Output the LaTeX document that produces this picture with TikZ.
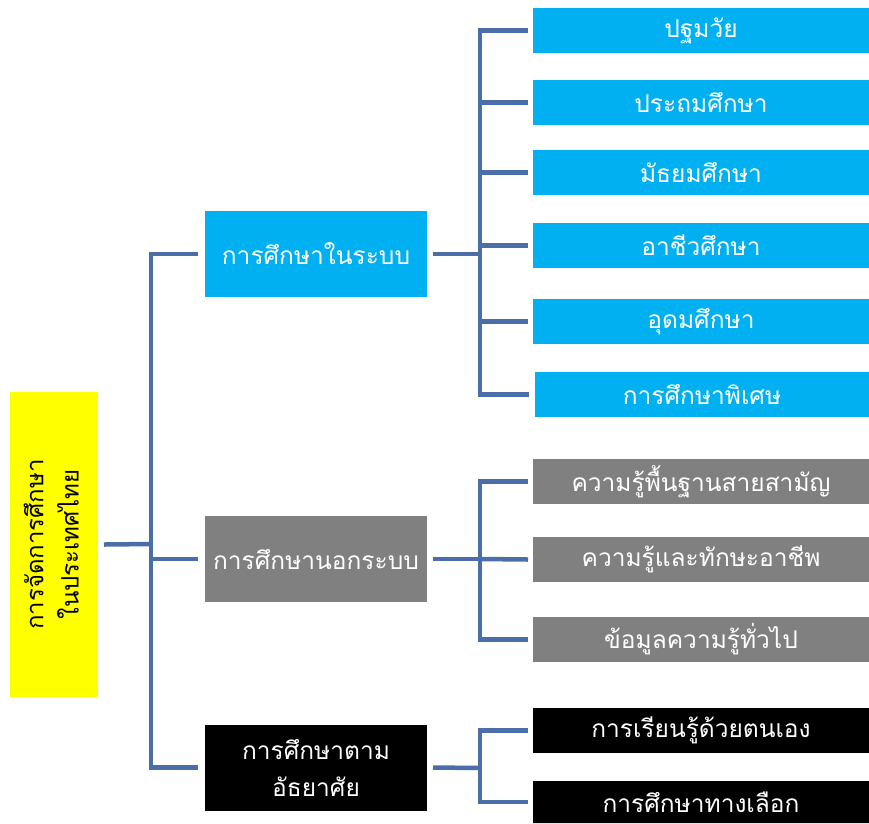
\documentclass[tikz,border=0pt]{standalone}
\usepackage{fontspec}
\newfontfamily\thaifont[Script=Thai]{Loma}
\definecolor{lineblue}{RGB}{74,111,166}
\definecolor{cyanbox}{RGB}{0,176,240}
\definecolor{graybox}{RGB}{128,128,128}
\definecolor{yellowbox}{RGB}{255,255,0}
\begin{document}
\begin{tikzpicture}[x=1pt,y=-1pt,
  conn/.style={draw=lineblue,line width=4.5pt},
  box/.style={inner sep=0pt,outer sep=0pt,font=\thaifont\fontsize{24.5}{37}\selectfont,align=center},
  midbox/.style={box,minimum width=222pt,minimum height=86pt},
  leafbox/.style={box,minimum width=336pt,minimum height=45pt},
  cyanstyle/.style={fill=cyanbox,text=white},
  graystyle/.style={fill=graybox,text=white},
  blackstyle/.style={fill=black,text=white}]
\useasboundingbox (0,0) rectangle (869,823);

% root
\node[box,fill=yellowbox,text=black,minimum width=88pt,minimum height=305pt,font=\thaifont\fontsize{24}{35}\selectfont] (root) at (54,544.5)
  {\rotatebox{90}{\begin{tabular}{@{}c@{}}การจัดการศึกษา\\[0pt]ในประเทศไทย\end{tabular}}};

% middle
\node[midbox,cyanstyle] (m1) at (316,254) {การศึกษาในระบบ};
\node[midbox,graystyle] (m2) at (316,559) {การศึกษานอกระบบ};
\node[midbox,blackstyle] (m3) at (316,767.5) {การศึกษาตาม\\อัธยาศัย};

% leaves formal
\node[leafbox,cyanstyle] (a1) at (701,30.5) {ปฐมวัย};
\node[leafbox,cyanstyle] (a2) at (701,102.5) {ประถมศึกษา};
\node[leafbox,cyanstyle] (a3) at (701,172.5) {มัธยมศึกษา};
\node[leafbox,cyanstyle] (a4) at (701,245.5) {อาชีวศึกษา};
\node[leafbox,cyanstyle] (a5) at (701,321.5) {อุดมศึกษา};
\node[leafbox,cyanstyle,minimum width=334pt] (a6) at (702,394.5) {การศึกษาพิเศษ};

% leaves non-formal
\node[leafbox,graystyle] (b1) at (701,481.5) {ความรู้พื้นฐานสายสามัญ};
\node[leafbox,graystyle] (b2) at (701,559.5) {ความรู้และทักษะอาชีพ};
\node[leafbox,graystyle] (b3) at (701,639.5) {ข้อมูลความรู้ทั่วไป};

% leaves informal
\node[leafbox,blackstyle] (c1) at (701,730.5) {การเรียนรู้ด้วยตนเอง};
\node[leafbox,blackstyle,minimum height=42pt] (c2) at (701,802) {การศึกษาทางเลือก};
\fill[black] (c2.south west) rectangle (c2.south east |- 0,823);

% trunk from root
\coordinate (t) at (151,544);
\draw[conn] ([xshift=6pt]root.east) -- (t);
\draw[conn] ([xshift=-7pt]m1.west) -| (t) |- ([xshift=-7pt]m3.west);
\draw[conn] (t |- m2) -- ([xshift=-7pt]m2.west);

% formal branch
\coordinate (ja) at (480,254);
\draw[conn] ([xshift=6pt]m1.east) -- (ja);
\draw[conn] ([xshift=-5pt]a1.west) -| (ja) |- ([xshift=-6pt]a6.west);
\foreach \n in {a2,a3,a4,a5} \draw[conn] (ja |- \n) -- ([xshift=-5pt]\n.west);

% non-formal branch
\coordinate (jb) at (480,559);
\draw[conn] ([xshift=6pt]m2.east) -- (jb);
\draw[conn] ([xshift=-5pt]b1.west) -| (jb) |- ([xshift=-5pt]b3.west);
\draw[conn] (jb) -- ([xshift=-5pt]b2.west);

% informal branch
\coordinate (jc) at (480,768);
\draw[conn] ([xshift=6pt]m3.east) -- (jc);
\draw[conn] ([xshift=-5pt]c1.west) -| (jc) |- ([xshift=-5pt]c2.west);
\end{tikzpicture}
\end{document}
